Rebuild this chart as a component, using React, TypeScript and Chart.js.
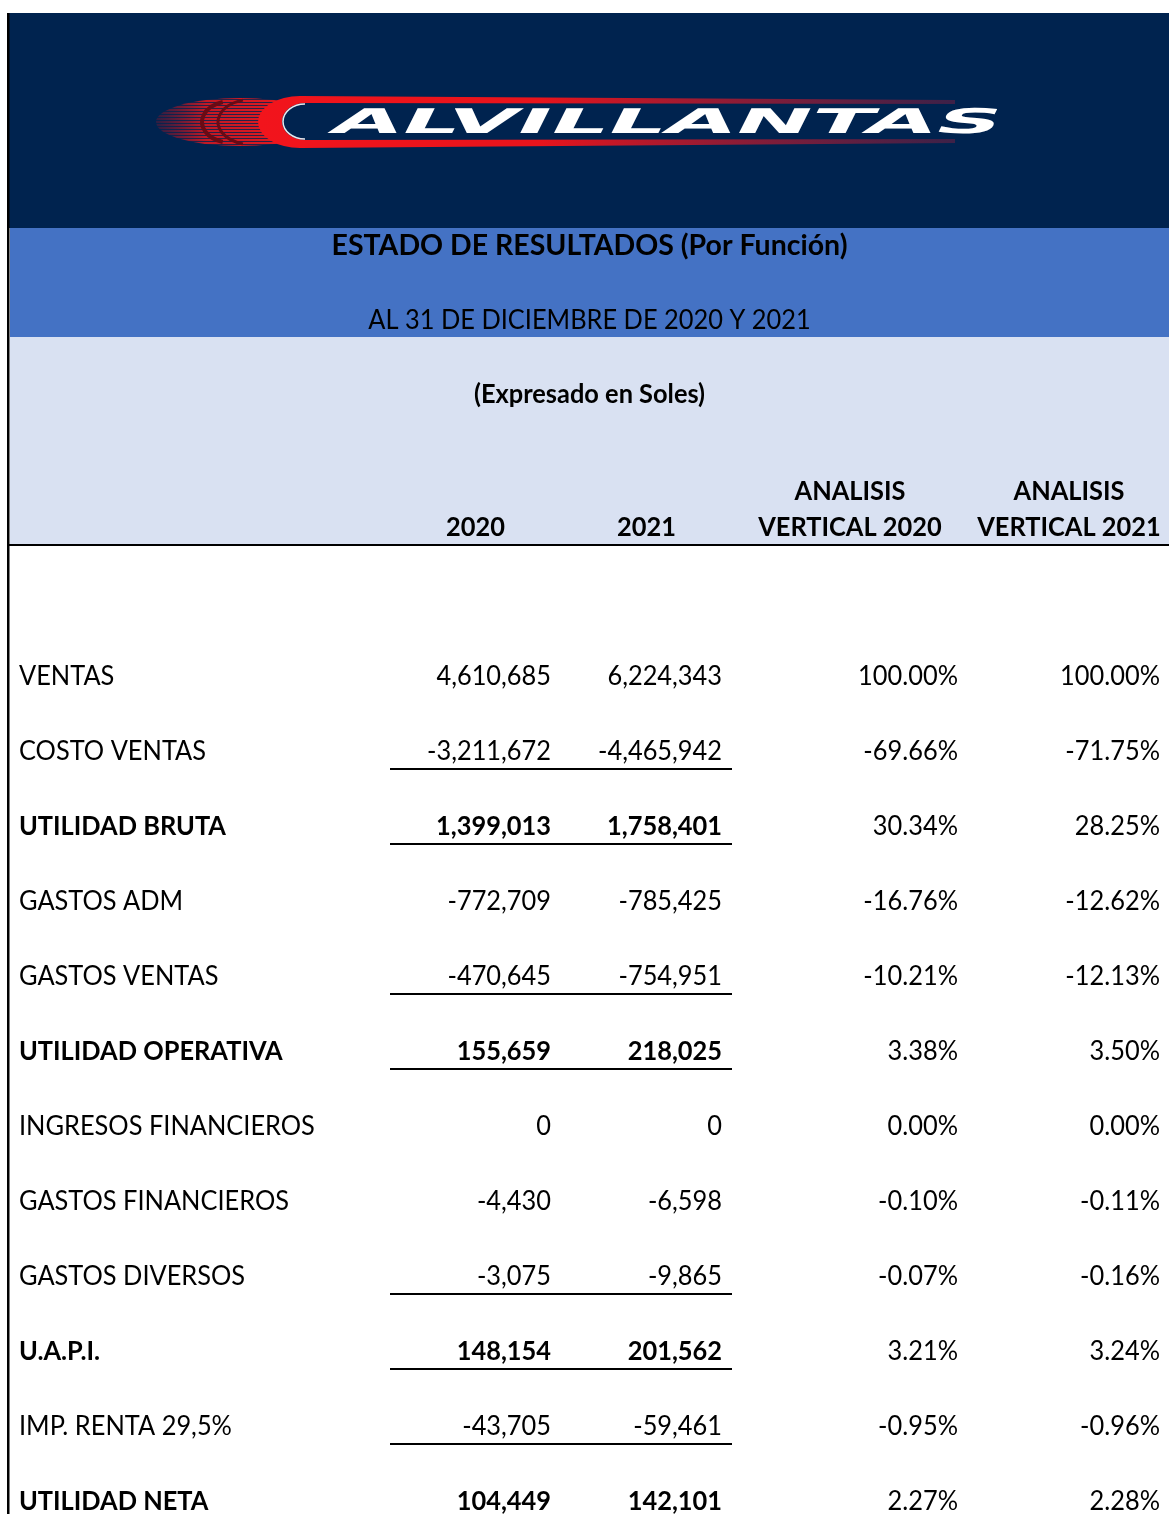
import React, { useEffect, useRef } from 'react';
import { Chart, registerables } from 'chart.js';

Chart.register(...registerables);

// ---------- data ----------
const COMPANY = 'ALVILLANTAS';
const TITLE = 'ESTADO DE RESULTADOS (Por Función)';
const SUBTITLE = 'AL 31 DE DICIEMBRE DE 2020 Y 2021';
const UNITS = '(Expresado en Soles)';

const COLUMN_HEADERS: string[][] = [
  ['2020'],
  ['2021'],
  ['ANALISIS', 'VERTICAL 2020'],
  ['ANALISIS', 'VERTICAL 2021'],
];

const ROW_LABELS = [
  'VENTAS',
  'COSTO VENTAS',
  'UTILIDAD BRUTA',
  'GASTOS ADM',
  'GASTOS VENTAS',
  'UTILIDAD OPERATIVA',
  'INGRESOS FINANCIEROS',
  'GASTOS FINANCIEROS',
  'GASTOS DIVERSOS',
  'U.A.P.I.',
  'IMP. RENTA 29,5%',
  'UTILIDAD NETA',
];

const VALUES_2020 = [4610685, -3211672, 1399013, -772709, -470645, 155659, 0, -4430, -3075, 148154, -43705, 104449];
const VALUES_2021 = [6224343, -4465942, 1758401, -785425, -754951, 218025, 0, -6598, -9865, 201562, -59461, 142101];
const VERTICAL_2020 = [100.0, -69.66, 30.34, -16.76, -10.21, 3.38, 0.0, -0.1, -0.07, 3.21, -0.95, 2.27];
const VERTICAL_2021 = [100.0, -71.75, 28.25, -12.62, -12.13, 3.5, 0.0, -0.11, -0.16, 3.24, -0.96, 2.28];

const BOLD_ROWS = ['UTILIDAD BRUTA', 'UTILIDAD OPERATIVA', 'U.A.P.I.', 'UTILIDAD NETA'];
const UNDERLINED_ROWS = [
  'COSTO VENTAS',
  'UTILIDAD BRUTA',
  'GASTOS VENTAS',
  'UTILIDAD OPERATIVA',
  'GASTOS DIVERSOS',
  'U.A.P.I.',
  'IMP. RENTA 29,5%',
];

// ---------- layout / style ----------
const PAGE_W = 1169;
const PAGE_H = 1514;
const CANVAS_H = 1560;
const ROW_H = 75;
const FIRST_ROW_CENTER = 676;
const AREA_TOP = FIRST_ROW_CENTER - ROW_H / 2;
const AREA_BOTTOM = AREA_TOP + ROW_H * ROW_LABELS.length;

const TABLE_LEFT = 10;
const LABEL_X = 19;
const COL_EDGES = [390, 561, 732, 968, 1170];
const CELL_PAD = 10;

const NAVY = '#00234f';
const BLUE = '#4472c4';
const LIGHT = '#d9e1f2';
const FONT = 'Lato, "Open Sans", sans-serif';
const BODY_SIZE = 26;
const TITLE_SIZE = 28;
const CAP = 0.7165;

const fmtNum = (v: number) => v.toLocaleString('en-US');
const fmtPct = (v: number) => v.toFixed(2) + '%';

function drawText(
  ctx: CanvasRenderingContext2D,
  text: string,
  x: number,
  baseline: number,
  font: string,
  align: 'left' | 'right' | 'center',
  sx: number,
) {
  ctx.save();
  ctx.font = font;
  const w = ctx.measureText(text).width * sx;
  const x0 = align === 'left' ? x : align === 'right' ? x - w : x - w / 2;
  ctx.translate(x0, baseline);
  ctx.scale(sx, 1);
  ctx.textAlign = 'left';
  ctx.textBaseline = 'alphabetic';
  ctx.fillStyle = '#000';
  ctx.fillText(text, 0, 0);
  ctx.restore();
}

function measure(ctx: CanvasRenderingContext2D, font: string, text: string) {
  ctx.save();
  ctx.font = font;
  const w = ctx.measureText(text).width;
  ctx.restore();
  return w;
}

function drawLogo(ctx: CanvasRenderingContext2D) {
  const cy = 122;
  // motion streaks
  ctx.save();
  ctx.beginPath();
  ctx.ellipse(240, cy, 84, 24, 0, 0, Math.PI * 2);
  ctx.clip();
  const g = ctx.createLinearGradient(156, 0, 300, 0);
  g.addColorStop(0, 'rgba(150,20,40,0.3)');
  g.addColorStop(0.35, 'rgba(205,25,35,0.95)');
  g.addColorStop(1, 'rgba(235,25,30,1)');
  ctx.fillStyle = g;
  for (let y = 97; y < 149; y += 3) ctx.fillRect(150, y, 160, 2.2);
  ctx.restore();
  // dark arcs
  ctx.save();
  ctx.strokeStyle = '#6a0a14';
  ctx.lineWidth = 4;
  ctx.beginPath();
  ctx.ellipse(232, cy, 30, 21, 0, Math.PI * 0.6, Math.PI * 1.4);
  ctx.stroke();
  ctx.lineWidth = 3;
  ctx.beginPath();
  ctx.ellipse(254, cy, 36, 23, 0, Math.PI * 0.6, Math.PI * 1.4);
  ctx.stroke();
  ctx.restore();
  // red band
  ctx.save();
  const rg = ctx.createLinearGradient(260, 0, 960, 0);
  rg.addColorStop(0, '#f2141c');
  rg.addColorStop(0.4, '#e8141c');
  rg.addColorStop(1, 'rgba(170,30,60,0.35)');
  ctx.fillStyle = rg;
  ctx.beginPath();
  ctx.moveTo(300, 96);
  ctx.lineTo(955, 100);
  ctx.lineTo(955, 143);
  ctx.lineTo(300, 148);
  ctx.ellipse(300, cy, 42, 26, 0, Math.PI / 2, Math.PI * 1.5);
  ctx.closePath();
  ctx.fill();
  ctx.fillStyle = NAVY;
  ctx.beginPath();
  ctx.moveTo(305, 103);
  ctx.lineTo(962, 104);
  ctx.lineTo(962, 139);
  ctx.lineTo(305, 140);
  ctx.ellipse(305, 121.5, 23, 18.5, 0, Math.PI / 2, Math.PI * 1.5);
  ctx.closePath();
  ctx.fill();
  ctx.strokeStyle = 'rgba(255,255,255,0.9)';
  ctx.lineWidth = 1.5;
  ctx.beginPath();
  ctx.ellipse(305, 121.5, 22, 17.5, 0, Math.PI * 0.5, Math.PI * 1.5);
  ctx.stroke();
  ctx.restore();
  // company name
  ctx.save();
  const font = 'bold 34px "DejaVu Sans", sans-serif';
  ctx.font = font;
  const m = ctx.measureText(COMPANY).width;
  const skew = 0.5;
  const sx = (1008 - 327 - skew * 24) / m;
  ctx.translate(327, 133);
  ctx.transform(1, 0, -skew, 1, 0, 0);
  ctx.scale(sx, 1);
  ctx.fillStyle = '#ffffff';
  ctx.textBaseline = 'alphabetic';
  ctx.fillText(COMPANY, 0, 0);
  ctx.restore();
}

function fonts(ctx: CanvasRenderingContext2D) {
  const reg = `400 ${BODY_SIZE}px ${FONT}`;
  const bold = `700 ${BODY_SIZE}px ${FONT}`;
  const titleFont = `700 ${TITLE_SIZE}px ${FONT}`;
  return {
    reg,
    bold,
    titleFont,
    sxReg: 124 / measure(ctx, reg, '-3,211,672'),
    sxBold: 207 / measure(ctx, bold, 'UTILIDAD BRUTA'),
    sxTitle: 516 / measure(ctx, titleFont, TITLE),
    half: (BODY_SIZE * CAP) / 2,
  };
}

const tablePlugin = {
  id: 'statementTable',
  beforeDraw(chart: any) {
    const ctx: CanvasRenderingContext2D = chart.ctx;
    const xs = chart.scales.x;
    ctx.save();
    ctx.fillStyle = '#ffffff';
    ctx.fillRect(0, 0, chart.width, chart.height);
    // header bands
    ctx.fillStyle = NAVY;
    ctx.fillRect(9, 13, PAGE_W - 9, 215);
    ctx.fillStyle = BLUE;
    ctx.fillRect(TABLE_LEFT, 228, PAGE_W - TABLE_LEFT, 109);
    ctx.fillStyle = LIGHT;
    ctx.fillRect(TABLE_LEFT, 337, PAGE_W - TABLE_LEFT, 207);
    // borders
    ctx.fillStyle = '#000';
    ctx.fillRect(7, 13, 2.5, chart.height);
    ctx.fillRect(7, 544, PAGE_W - 7, 2);
    drawLogo(ctx);

    const f = fonts(ctx);
    const cx = xs.getPixelForValue((TABLE_LEFT + PAGE_W) / 2);

    drawText(ctx, TITLE, cx, 245 + (TITLE_SIZE * CAP) / 2, f.titleFont, 'center', f.sxTitle);
    drawText(ctx, SUBTITLE, cx, 320 + f.half, f.reg, 'center', f.sxReg);
    drawText(ctx, UNITS, cx, 394 + f.half, f.bold, 'center', f.sxBold);

    COLUMN_HEADERS.forEach((lines, i) => {
      const center = xs.getPixelForValue((COL_EDGES[i] + COL_EDGES[i + 1]) / 2);
      const lineYs = lines.length === 2 ? [491, 527] : [527];
      lines.forEach((t, j) => drawText(ctx, t, center, lineYs[j] + f.half, f.bold, 'center', f.sxBold));
    });
    ctx.restore();
  },
  afterDatasetsDraw(chart: any) {
    const ctx: CanvasRenderingContext2D = chart.ctx;
    const xs = chart.scales.x;
    const f = fonts(ctx);
    ctx.save();
    chart.data.datasets.forEach((ds: any, di: number) => {
      const meta = chart.getDatasetMeta(di);
      meta.data.forEach((el: any, i: number) => {
        const label = ROW_LABELS[i];
        const isBold = BOLD_ROWS.includes(label) && ds.boldable;
        drawText(ctx, ds.texts[i], el.x, el.y + f.half, isBold ? f.bold : f.reg, ds.align, isBold ? f.sxBold : f.sxReg);
      });
    });
    // underlines
    const ys = chart.scales.y;
    ctx.fillStyle = '#000';
    const x0 = xs.getPixelForValue(COL_EDGES[0]);
    const x1 = xs.getPixelForValue(COL_EDGES[2]);
    UNDERLINED_ROWS.forEach((label) => {
      const y = ys.getPixelForValue(ROW_LABELS.indexOf(label));
      ctx.fillRect(x0, y + 17, x1 - x0, 2);
    });
    ctx.restore();
  },
};

export default function App() {
  const ref = useRef<HTMLCanvasElement | null>(null);
  useEffect(() => {
    document.documentElement.style.overflow = 'hidden';
    const canvas = ref.current;
    if (!canvas) return;
    const colData = [
      { texts: ROW_LABELS, anchor: LABEL_X, align: 'left', boldable: true },
      { texts: VALUES_2020.map(fmtNum), anchor: COL_EDGES[1] - CELL_PAD, align: 'right', boldable: true },
      { texts: VALUES_2021.map(fmtNum), anchor: COL_EDGES[2] - CELL_PAD, align: 'right', boldable: true },
      { texts: VERTICAL_2020.map(fmtPct), anchor: COL_EDGES[3] - CELL_PAD, align: 'right', boldable: false },
      { texts: VERTICAL_2021.map(fmtPct), anchor: COL_EDGES[4] - CELL_PAD, align: 'right', boldable: false },
    ];
    const datasets = colData.map((c, k) => ({
      label: 'col' + k,
      data: ROW_LABELS.map((l) => ({ x: c.anchor, y: l })),
      texts: c.texts,
      align: c.align,
      boldable: c.boldable,
      pointRadius: 0,
      pointHoverRadius: 0,
    }));
    const chart = new Chart(canvas, {
      type: 'scatter',
      data: { labels: ROW_LABELS, datasets: datasets as any },
      options: {
        responsive: false,
        animation: false,
        events: [],
        layout: { padding: { top: AREA_TOP, bottom: CANVAS_H - AREA_BOTTOM, left: 0, right: 0 } },
        scales: {
          x: { type: 'linear', min: 0, max: PAGE_W, display: false },
          y: { type: 'category', labels: ROW_LABELS, offset: true, display: false },
        },
        plugins: { legend: { display: false }, tooltip: { enabled: false } },
      },
      plugins: [tablePlugin],
    });
    return () => chart.destroy();
  }, []);
  return (
    <div style={{ position: 'absolute', left: 0, top: 0, width: PAGE_W, height: PAGE_H, overflow: 'hidden' }}>
      <canvas ref={ref} width={PAGE_W} height={CANVAS_H} style={{ display: 'block' }} />
    </div>
  );
}
